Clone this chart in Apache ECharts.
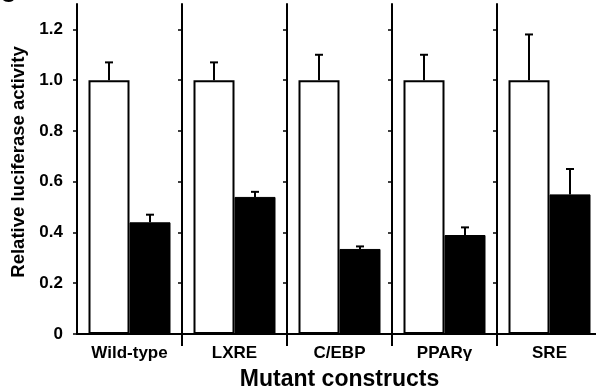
<!DOCTYPE html>
<html>
<head>
<meta charset="utf-8">
<script src="https://cdn.jsdelivr.net/npm/echarts@6/dist/echarts.min.js"></script>
<style>
  html, body { margin: 0; padding: 0; background: #fff; }
  #chart { width: 596px; height: 388px; }
</style>
</head>
<body>
<div id="chart"></div>
<script>
// 数据
var constructs = ['Wild-type', 'LXRE', 'C/EBP', 'PPAR\u03b3', 'SRE'];
var whiteVals = [1.0, 1.0, 1.0, 1.0, 1.0];
var whiteErr = [0.07, 0.07, 0.10, 0.10, 0.18];
var blackVals = [0.44, 0.54, 0.335, 0.39, 0.55];
var blackErr = [0.03, 0.02, 0.01, 0.03, 0.10];
var yTicks = [0, 0.2, 0.4, 0.6, 0.8, 1.0, 1.2];

var FONT = 'Liberation Sans';
var BAR_W = 41;
var GROUP_W = 105;

function errData(vals, errs) {
	return vals.map(function(v, i) {
		return [i, v, v + errs[i]];
	});
}

// 误差线, dx 为相对类目中心的偏移
function errRender(dx) {
	return function(params, api) {
		var i = api.value(0);
		var base = api.coord([i, api.value(1)]);
		var top = api.coord([i, api.value(2)]);
		var x = base[0] + dx;
		var st = { stroke: '#000', lineWidth: 2 };
		return {
			type: 'group',
			children: [
				{ type: 'line', shape: { x1: x, y1: base[1], x2: x, y2: top[1] }, style: st },
				{ type: 'line', shape: { x1: x - 4, y1: top[1], x2: x + 4, y2: top[1] }, style: st }
			]
		};
	};
}

// 分隔线 (每组之间的竖轴)
function sepAxis(k) {
	return {
		type: 'value',
		position: 'left',
		offset: -GROUP_W * k,
		min: 0,
		max: 1.3,
		axisLine: { show: true, lineStyle: { color: '#000', width: 2 } },
		axisTick: { show: true, customValues: yTicks, length: 4, lineStyle: { color: '#000', width: 1.5 } },
		axisLabel: { show: false },
		splitLine: { show: false }
	};
}

var yAxes = [{
	type: 'value',
	position: 'left',
	min: 0,
	max: 1.3,
	name: 'Relative luciferase activity',
	nameLocation: 'middle',
	nameGap: 49,
	nameTextStyle: { fontFamily: FONT, fontWeight: 'bold', fontSize: 18.5, color: '#000', padding: [0, 0, 0, 14] },
	axisLine: { show: true, lineStyle: { color: '#000', width: 2 } },
	axisTick: { show: true, customValues: yTicks, length: 4, lineStyle: { color: '#000', width: 1.5 } },
	axisLabel: {
		customValues: yTicks,
		margin: 14,
		fontFamily: FONT,
		fontWeight: 'bold',
		fontSize: 17,
		color: '#000',
		formatter: function(v) { return v === 0 ? '0' : v.toFixed(1); }
	},
	splitLine: { show: false }
}];
for (var k = 1; k < constructs.length; k++) {
	yAxes.push(sepAxis(k));
}

var chart = echarts.init(document.getElementById('chart'));
chart.setOption({
	animation: false,
	title: {
		text: 'C',
		left: -5,
		top: -20,
		textStyle: { fontFamily: FONT, fontWeight: 'bold', fontSize: 22, color: '#000' }
	},
	grid: {
		left: 77,
		top: 4,
		width: GROUP_W * constructs.length,
		bottom: 54,
		outerBoundsMode: 'none',
		containLabel: false
	},
	xAxis: {
		type: 'category',
		data: constructs,
		name: 'Mutant constructs',
		nameLocation: 'middle',
		nameGap: 34,
		nameTextStyle: { fontFamily: FONT, fontWeight: 'bold', fontSize: 23, color: '#000' },
		axisLine: { lineStyle: { color: '#000', width: 2 } },
		axisTick: {
			show: true,
			length: 12,
			interval: function(idx) { return idx > 0; },
			lineStyle: { color: '#000', width: 2 }
		},
		axisLabel: { margin: 11, fontFamily: FONT, fontWeight: 'bold', fontSize: 17, color: '#000', interval: 0 },
		splitLine: { show: false }
	},
	yAxis: yAxes,
	series: [
		{
			type: 'bar',
			data: whiteVals,
			barWidth: BAR_W,
			barGap: '0%',
			itemStyle: { color: '#fff', borderColor: '#000', borderWidth: 2 }
		},
		{
			type: 'bar',
			data: blackVals,
			barWidth: BAR_W,
			barGap: '0%',
			itemStyle: { color: '#000', borderColor: '#000', borderWidth: 1 }
		},
		{
			type: 'custom',
			data: errData(whiteVals, whiteErr),
			renderItem: errRender(-BAR_W / 2),
			encode: { x: 0, y: [1, 2] },
			z: 5
		},
		{
			type: 'custom',
			data: errData(blackVals, blackErr),
			renderItem: errRender(BAR_W / 2),
			encode: { x: 0, y: [1, 2] },
			z: 5
		}
	]
});
</script>
</body>
</html>
